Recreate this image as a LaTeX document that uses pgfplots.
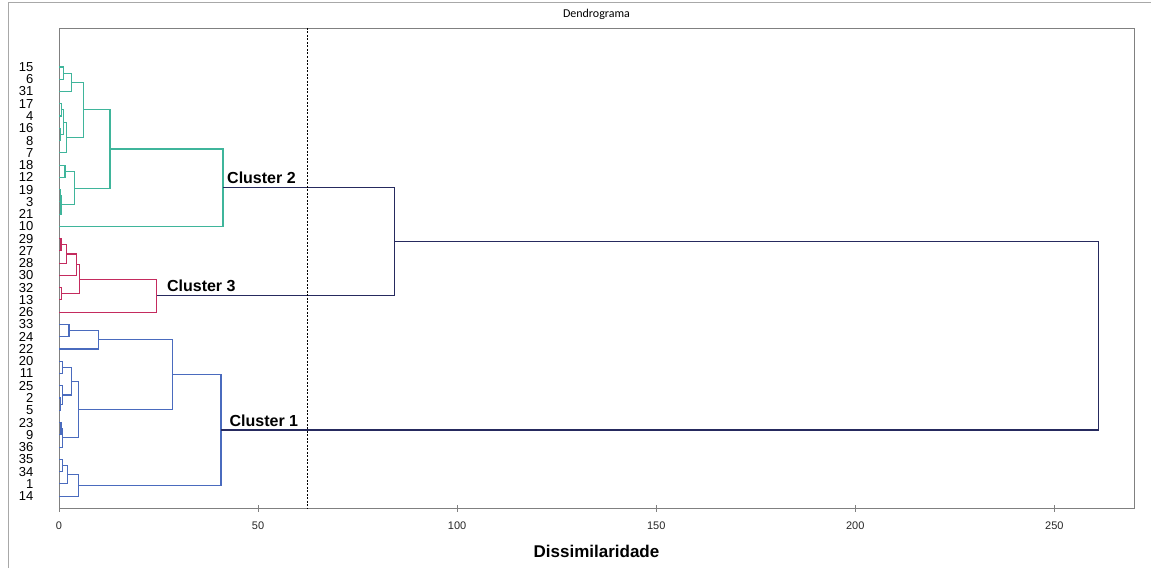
\documentclass[border=0pt]{standalone}
\usepackage{fontspec}
\setmainfont{Liberation Sans}
\newfontfamily\titlefont{Carlito}
\usepackage{pgfplots}
\pgfplotsset{compat=1.18}
\definecolor{cgreen}{HTML}{3FB59B}
\definecolor{cred}{HTML}{C42B5E}
\definecolor{cblue}{HTML}{4A6BBE}
\definecolor{cnavy}{HTML}{262A5E}
\definecolor{cframe}{HTML}{A8A8A8}
\begin{document}
\begin{tikzpicture}
\path[use as bounding box] (0pt,0pt) rectangle (1151pt,568pt);
\draw[cframe, line width=1pt] (8.5pt,0pt) -- (8.5pt,565pt) -- (1151pt,565pt);
\begin{axis}[
  at={(59pt,60pt)}, anchor=south west, scale only axis,
  width=1075pt, height=480pt,
  xmin=0, xmax=270, ymin=-3.18, ymax=35.97, y dir=reverse,
  unbounded coords=jump,
  /pgf/number format/assume math mode=true,
  axis line style={draw=gray, line width=0.8pt},
  xtick={0,50,100,150,200,250},
  xtick pos=bottom, tick align=center, major tick length=7pt,
  xtick style={draw=gray, line width=0.6pt},
  xticklabel style={font=\fontsize{11}{11}\selectfont, anchor=center, yshift=-14pt, text=black!85},
  ytick={0,...,35},
  yticklabels={15,6,31,17,4,16,8,7,18,12,19,3,21,10,29,27,28,30,32,13,26,33,24,22,20,11,25,2,5,23,9,36,35,34,1,14},
  ytick style={draw=none},
  yticklabel style={font=\fontsize{13}{13}\selectfont, anchor=east, inner sep=0pt, xshift=-22pt},
  title={\titlefont\fontsize{12}{12}\selectfont Dendrograma},
  title style={at={(0.5,1)}, anchor=center, yshift=8pt},
  xlabel={\bfseries Dissimilaridade},
  xlabel style={font=\fontsize{17}{17}\selectfont, at={(0.5,0)}, anchor=center, yshift=-43pt},
]
\addplot[cgreen, line width=1.1pt] coordinates {
(0,0)(1.1,0)(1.1,1)(0,1)(nan,nan)
(1.1,0.5)(3.2,0.5)(3.2,2)(0,2)(nan,nan)
(0,3)(0.7,3)(0.7,4)(0,4)(nan,nan)
(0,5)(0.4,5)(0.4,6)(0,6)(nan,nan)
(0.7,3.5)(1.2,3.5)(1.2,5.5)(0.4,5.5)(nan,nan)
(1.2,4.5)(1.8,4.5)(1.8,7)(0,7)(nan,nan)
(3.2,1.25)(6.1,1.25)(6.1,5.75)(1.8,5.75)(nan,nan)
(0,8)(1.5,8)(1.5,9)(0,9)(nan,nan)
(0,10)(0.3,10)(0.3,11)(0,11)(nan,nan)
(0.3,10.5)(0.5,10.5)(0.5,12)(0,12)(nan,nan)
(1.5,8.5)(4.0,8.5)(4.0,11.25)(0.5,11.25)(nan,nan)
(6.1,3.5)(12.8,3.5)(12.8,9.875)(4.0,9.875)(nan,nan)
(12.8,6.6875)(41.2,6.6875)(41.2,13)(0,13)
};
\addplot[cred, line width=1.1pt] coordinates {
(0,14)(0.5,14)(0.5,15)(0,15)(nan,nan)
(0.5,14.5)(1.8,14.5)(1.8,16)(0,16)(nan,nan)
(1.8,15.25)(4.3,15.25)(4.3,17)(0,17)(nan,nan)
(0,18)(0.6,18)(0.6,19)(0,19)(nan,nan)
(4.3,16.125)(5.1,16.125)(5.1,18.5)(0.6,18.5)(nan,nan)
(5.1,17.3125)(24.6,17.3125)(24.6,20)(0,20)
};
\addplot[cblue, line width=1.1pt] coordinates {
(0,21)(2.5,21)(2.5,22)(0,22)(nan,nan)
(2.5,21.5)(9.9,21.5)(9.9,23)(0,23)(nan,nan)
(0,24)(0.9,24)(0.9,25)(0,25)(nan,nan)
(0,27)(0.3,27)(0.3,28)(0,28)(nan,nan)
(0,26)(0.8,26)(0.8,27.5)(0.3,27.5)(nan,nan)
(0.9,24.5)(3.2,24.5)(3.2,26.75)(0.8,26.75)(nan,nan)
(0,29)(0.5,29)(0.5,30)(0,30)(nan,nan)
(0.5,29.5)(0.8,29.5)(0.8,31)(0,31)(nan,nan)
(3.2,25.625)(5.0,25.625)(5.0,30.25)(0.8,30.25)(nan,nan)
(9.9,22.25)(28.4,22.25)(28.4,27.9375)(5.0,27.9375)(nan,nan)
(0,32)(0.8,32)(0.8,33)(0,33)(nan,nan)
(0.8,32.5)(2.2,32.5)(2.2,34)(0,34)(nan,nan)
(2.2,33.25)(5.0,33.25)(5.0,35)(0,35)(nan,nan)
(28.4,25.09375)(40.7,25.09375)(40.7,34.125)(5.0,34.125)
};
\addplot[cnavy, line width=1.1pt] coordinates {
(41.2,9.84375)(84.2,9.84375)(84.2,18.65625)(24.6,18.65625)(nan,nan)
(84.2,14.25)(261,14.25)(261,29.609)(40.7,29.609)
};
\addplot[black, line width=0.8pt, dash pattern=on 2pt off 1.5pt] coordinates {(62.5,-3.18)(62.5,35.97)};
\node[anchor=base west, inner sep=0pt, font=\bfseries\fontsize{16}{16}\selectfont, yshift=4pt] at (axis cs:42.2,9.84375) {Cluster 2};
\node[anchor=base west, inner sep=0pt, font=\bfseries\fontsize{16}{16}\selectfont, yshift=4pt] at (axis cs:27.1,18.65625) {Cluster 3};
\node[anchor=base west, inner sep=0pt, font=\bfseries\fontsize{16}{16}\selectfont, yshift=4pt] at (axis cs:42.8,29.609) {Cluster 1};
\end{axis}
\end{tikzpicture}
\end{document}
